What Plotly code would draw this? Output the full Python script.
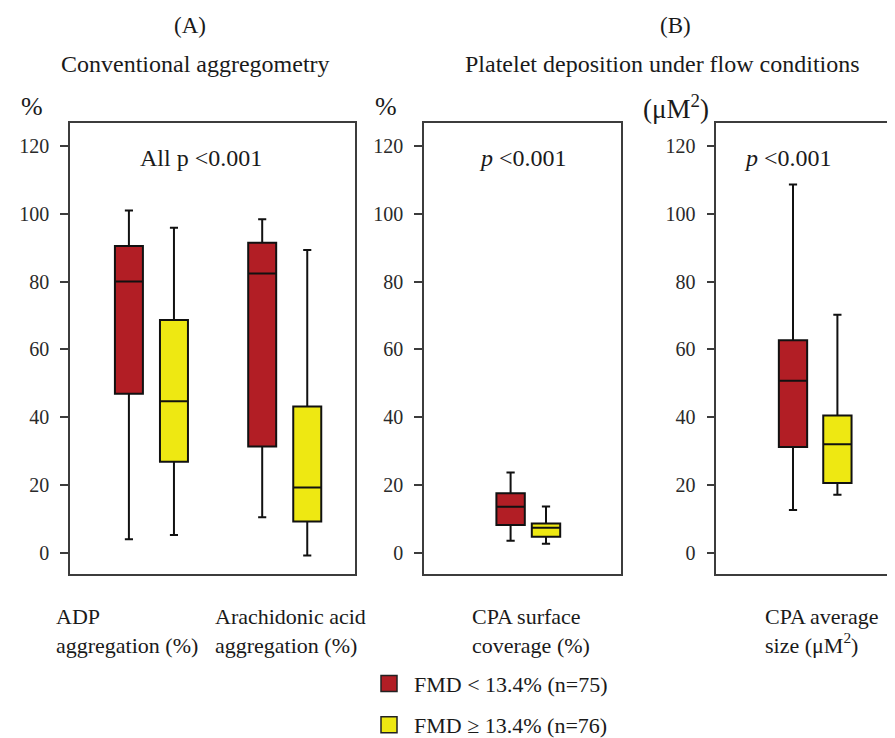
import plotly.graph_objects as go

# ---------------- data ----------------
panelA_categories = ["ADP aggregation (%)", "Arachidonic acid aggregation (%)"]
panelA_low_q1 = [46.9, 31.3]
panelA_low_median = [80.0, 82.4]
panelA_low_q3 = [90.5, 91.5]
panelA_low_min = [3.9, 10.4]
panelA_low_max = [101.0, 98.4]
panelA_high_q1 = [26.8, 9.2]
panelA_high_median = [44.7, 19.2]
panelA_high_q3 = [68.7, 43.1]
panelA_high_min = [5.2, -0.9]
panelA_high_max = [95.9, 89.3]

cov_categories = ["CPA surface coverage (%)"]
cov_low_q1 = [8.1]
cov_low_median = [13.5]
cov_low_q3 = [17.5]
cov_low_min = [3.5]
cov_low_max = [23.6]
cov_high_q1 = [4.7]
cov_high_median = [7.3]
cov_high_q3 = [8.6]
cov_high_min = [2.6]
cov_high_max = [13.6]

size_categories = ["CPA average size (μM²)"]
size_low_q1 = [31.2]
size_low_median = [50.7]
size_low_q3 = [62.7]
size_low_min = [12.6]
size_low_max = [108.7]
size_high_q1 = [20.5]
size_high_median = [32.0]
size_high_q3 = [40.5]
size_high_min = [17.1]
size_high_max = [70.2]

group_names = ["FMD < 13.4% (n=75)", "FMD ≥ 13.4% (n=76)"]
y_ticks = [0, 20, 40, 60, 80, 100, 120]

# ---------------- style ----------------
W, H = 895, 738
RED = "#B21E25"
YELLOW = "#EEE812"
INK = "#1a1a1a"
AXC = "#3c3c3c"
FONT = "Liberation Serif"


def px(x):
    return x / W


def py(y):
    return 1 - y / H


fig = go.Figure()

panels = [
    # (xaxis, yaxis, cats, low stats, high stats, offset, box width)
    ("x", "y", panelA_categories,
     (panelA_low_q1, panelA_low_median, panelA_low_q3, panelA_low_min, panelA_low_max),
     (panelA_high_q1, panelA_high_median, panelA_high_q3, panelA_high_min, panelA_high_max),
     0.169, 0.21),
    ("x2", "y2", cov_categories,
     (cov_low_q1, cov_low_median, cov_low_q3, cov_low_min, cov_low_max),
     (cov_high_q1, cov_high_median, cov_high_q3, cov_high_min, cov_high_max),
     0.177, 0.284),
    ("x3", "y3", size_categories,
     (size_low_q1, size_low_median, size_low_q3, size_low_min, size_low_max),
     (size_high_q1, size_high_median, size_high_q3, size_high_min, size_high_max),
     0.222, 0.283),
]

for xa, ya, cats, low, high, dx, bw in panels:
    for stats, sign, color, name in ((low, -1, RED, group_names[0]), (high, 1, YELLOW, group_names[1])):
        q1, med, q3, lo, hi = stats
        fig.add_trace(go.Box(
            x=[i + sign * dx for i in range(len(cats))],
            q1=q1, median=med, q3=q3, lowerfence=lo, upperfence=hi,
            name=name, fillcolor=color,
            line=dict(color="#111111", width=2),
            width=bw, whiskerwidth=0.29,
            boxpoints=False, showlegend=False,
            xaxis=xa, yaxis=ya, hoverinfo="skip",
        ))

# legend entries
for name, color, lg in ((group_names[0], RED, "legend"), (group_names[1], YELLOW, "legend2")):
    fig.add_trace(go.Scatter(
        x=[None], y=[None], mode="markers", name=name,
        marker=dict(symbol="square", size=16, color=color, line=dict(color="#222222", width=1.5)),
        legend=lg, showlegend=True,
    ))

ydom = [py(574), py(116.7)]
yax_common = dict(
    range=[-6.4, 126.8], tickvals=y_ticks, ticks="outside", ticklen=8, tickwidth=1.5,
    tickcolor=AXC, showline=True, linecolor=AXC, linewidth=1.6, showgrid=False,
    zeroline=False, tickfont=dict(family=FONT, size=20, color="#2a2a2a"), domain=ydom,
    ticklabelstandoff=7,
)
xax_common = dict(
    showline=True, linecolor=AXC, linewidth=1.6, mirror=True, showgrid=False,
    zeroline=False, showticklabels=False, ticks="",
)

leg_common = dict(xanchor="left", yanchor="middle", itemwidth=40,
                  font=dict(family=FONT, size=22, color=INK), bgcolor="rgba(0,0,0,0)")

fig.update_layout(
    width=W, height=H,
    margin=dict(l=0, r=0, t=0, b=0),
    paper_bgcolor="white", plot_bgcolor="white",
    font=dict(family=FONT, size=20, color=INK),
    xaxis=dict(xax_common, domain=[px(62), px(346.7)], range=[-0.611, 1.525]),
    yaxis=dict(yax_common, anchor="x", mirror=True),
    xaxis2=dict(xax_common, domain=[px(416), px(612.7)], range=[-1.043, 0.924]),
    yaxis2=dict(yax_common, anchor="x2", mirror=True),
    xaxis3=dict(xax_common, domain=[px(708.3), 1.0], range=[-0.989, 0.878]),
    yaxis3=dict(yax_common, anchor="x3", mirror=False),
    legend=dict(leg_common, x=px(356), y=py(685)),
    legend2=dict(leg_common, x=px(356), y=py(727)),
    showlegend=True,
)

texts = [
    ("(A)", 182, 18, "center", 23),
    ("(B)", 667, 18, "center", 23),
    ("Conventional aggregometry", 187, 57, "center", 24),
    ("Platelet deposition under flow conditions", 654, 57, "center", 24),
    ("%", 24, 100, "center", 26),
    ("%", 378, 100, "center", 26),
    ("(μM<sup>2</sup>)", 668, 100, "center", 27),
    ("All p <0.001", 193, 152, "center", 24),
    ("<i>p</i> <0.001", 514.5, 152, "center", 24),
    ("<i>p</i> <0.001", 780, 152, "center", 24),
    ("ADP<br>aggregation (%)", 46, 632, "left", 22),
    ("Arachidonic acid<br>aggregation (%)", 205, 632, "left", 22),
    ("CPA surface<br>coverage (%)", 462, 632, "left", 22),
    ("CPA average<br>size (μM<sup>2</sup>)", 755, 632, "left", 22),
]
for t, x, y, anc, fs in texts:
    fig.add_annotation(
        text=t, x=px(x), y=py(y), xref="paper", yref="paper",
        xanchor=anc, yanchor="middle", align="left", showarrow=False,
        font=dict(family=FONT, size=fs, color=INK),
    )

fig.write_html("out.html")
